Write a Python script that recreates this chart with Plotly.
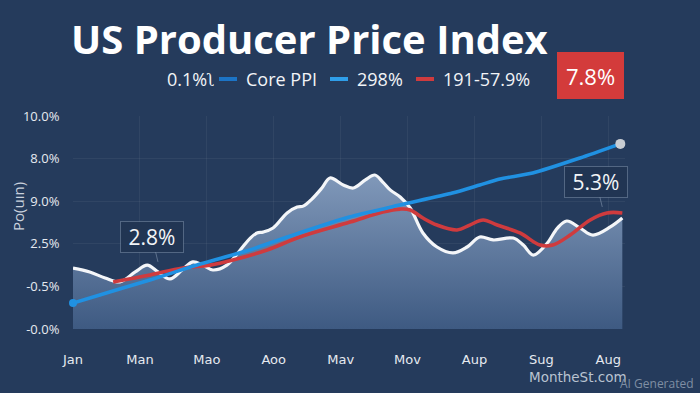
import plotly.graph_objects as go

# ---------------- data ----------------
month_labels = ["Jan", "Man", "Mao", "Aoo", "Mav", "Mov", "Aup", "Sug", "Aug"]
month_pos = [0, 1, 2, 3, 4, 5, 6, 7, 8]

y_tickvals = [0, 2, 4, 6, 8, 10]
y_ticktext = ["-0.0%", "-0.5%", "2.5%", "9.0%", "8.0%", "10.0%"]

ppi_x = [0.00, 0.25, 0.48, 0.70, 0.93, 1.11, 1.27, 1.45, 1.63, 1.79, 1.94, 2.09,
         2.30, 2.50, 2.65, 2.75, 2.84, 2.99, 3.20, 3.35, 3.44, 3.57, 3.72, 3.84,
         4.04, 4.19, 4.37, 4.51, 4.63, 4.74, 4.89, 5.04, 5.23, 5.44, 5.68, 5.89,
         6.08, 6.28, 6.58, 6.73, 6.88, 7.09, 7.24, 7.38, 7.58, 7.77, 8.03, 8.21]
ppi_y = [2.86, 2.68, 2.39, 2.21, 2.68, 3.00, 2.68, 2.35, 2.77, 3.15, 3.00, 2.77,
         3.00, 3.71, 4.27, 4.51, 4.55, 4.74, 5.45, 5.73, 5.77, 6.10, 6.62, 7.09,
         6.76, 6.62, 7.00, 7.23, 6.90, 6.53, 6.20, 5.68, 4.51, 3.85, 3.57, 3.85,
         4.32, 4.18, 4.27, 3.94, 3.47, 4.04, 4.74, 5.07, 4.74, 4.41, 4.79, 5.21]

core_x = [0.00, 0.40, 1.15, 1.90, 2.64, 3.38, 4.13, 4.88, 5.67, 6.08, 6.38, 6.87, 7.58, 8.18]
core_y = [1.22, 1.60, 2.30, 3.05, 3.71, 4.51, 5.26, 5.82, 6.38, 6.76, 7.04, 7.32, 8.03, 8.69]

red_x = [0.60, 1.15, 1.64, 2.05, 2.39, 2.90, 3.39, 4.14, 4.63, 4.89, 5.04, 5.23,
         5.44, 5.74, 5.93, 6.13, 6.34, 6.68, 6.98, 7.17, 7.43, 7.73, 7.98, 8.21]
red_y = [2.21, 2.54, 2.86, 3.00, 3.24, 3.71, 4.32, 5.02, 5.49, 5.63, 5.59, 5.21,
         4.88, 4.65, 4.88, 5.12, 4.88, 4.51, 3.94, 3.94, 4.41, 5.12, 5.45, 5.45]

callout_a = {"x": 1.27, "y": 3.15, "text": "2.8%"}
callout_b = {"x": 7.91, "y": 5.73, "text": "5.3%"}
badge_text = "7.8%"
legend_items = [("0.1%ʅ", None), ("Core PPI", "#1c74c6"), ("298%", "#2f9ee9"), ("191-57.9%", "#cf3b3e")]

# ---------------- layout geometry ----------------
W, H = 700, 393
ML, MR, MT, MB = 73, 75, 116, 64
PW, PH = W - ML - MR, H - MT - MB


def px(p):
    return (p - ML) / PW


def py(p):
    return (H - MB - p) / PH


BG = "#253b5c"
FONT = "Open Sans"

fig = go.Figure()

fig.add_trace(go.Scatter(
    x=ppi_x, y=ppi_y, mode="lines",
    line=dict(color="#f4f6f9", width=3.2, shape="spline", smoothing=1.0),
    fill="tozeroy",
    fillgradient=dict(type="vertical", start=0, stop=7.3,
                      colorscale=[[0, "#3e5a82"], [1, "#8199ba"]]),
    hoverinfo="skip", showlegend=False,
))

fig.add_trace(go.Scatter(
    x=red_x, y=red_y, mode="lines",
    line=dict(color="#cf3b3e", width=3.6, shape="spline", smoothing=1.0),
    hoverinfo="skip", showlegend=False,
))

fig.add_trace(go.Scatter(
    x=core_x, y=core_y, mode="lines",
    line=dict(color="#2091e2", width=3.6, shape="spline", smoothing=0.6),
    hoverinfo="skip", showlegend=False,
))

fig.add_trace(go.Scatter(
    x=[core_x[0]], y=[core_y[0]], mode="markers",
    marker=dict(color="#2091e2", size=8),
    hoverinfo="skip", showlegend=False, cliponaxis=False,
))
fig.add_trace(go.Scatter(
    x=[core_x[-1]], y=[core_y[-1]], mode="markers",
    marker=dict(color="#c9cdd3", size=10),
    hoverinfo="skip", showlegend=False, cliponaxis=False,
))

annotations = []
shapes = []

# title
annotations.append(dict(
    text="<b>US Producer Price Index</b>", x=px(69), y=py(39), xref="paper", yref="paper",
    xanchor="left", yanchor="middle", showarrow=False,
    font=dict(family=FONT, size=40, color="#ffffff"),
))

# legend (custom)
leg_layout = [(165, None), (244, (219, 237)), (355, (330, 348)), (441, (416, 434))]
for (label, color), (tx, dash) in zip(legend_items, leg_layout):
    annotations.append(dict(
        text=label, x=px(tx), y=py(79), xref="paper", yref="paper",
        xanchor="left", yanchor="middle", showarrow=False,
        font=dict(family=FONT, size=18, color="#f2f4f7"),
    ))
    if dash is not None:
        shapes.append(dict(type="line", xref="paper", yref="paper",
                           x0=px(dash[0]), x1=px(dash[1]), y0=py(79), y1=py(79),
                           line=dict(color=color, width=4)))

# red badge
shapes.append(dict(type="rect", xref="paper", yref="paper",
                   x0=px(557), x1=px(624), y0=py(99), y1=py(52),
                   fillcolor="#d33b3b", line=dict(width=0)))
annotations.append(dict(
    text=badge_text, x=px(590.5), y=py(76), xref="paper", yref="paper",
    xanchor="center", yanchor="middle", showarrow=False,
    font=dict(family=FONT, size=22, color="#ffffff"),
))

# callouts
for c in (callout_a, callout_b):
    annotations.append(dict(
        text=c["text"], x=c["x"], y=c["y"], xref="x", yref="y",
        showarrow=True, arrowhead=0, arrowwidth=1, arrowcolor="rgba(200,215,235,0.35)",
        ax=-6, ay=-25, standoff=0,
        bgcolor="rgba(33,53,82,0.92)", bordercolor="rgba(200,215,235,0.3)", borderwidth=1,
        borderpad=3, width=56, height=24,
        font=dict(family=FONT, size=21, color="#f2f4f7"),
    ))

# y-axis title
annotations.append(dict(
    text="Po(uın)", x=px(18), y=py(207), xref="paper", yref="paper",
    xanchor="center", yanchor="middle", showarrow=False, textangle=-90,
    font=dict(family=FONT, size=15, color="#c9d1dd"),
))

# watermarks
annotations.append(dict(
    text="MontheSt.com", x=px(578), y=py(377), xref="paper", yref="paper",
    xanchor="center", yanchor="middle", showarrow=False,
    font=dict(family="DejaVu Sans", size=13.5, color="#b9c3d1"),
))
annotations.append(dict(
    text="AI Generated", x=px(657), y=py(383), xref="paper", yref="paper",
    xanchor="center", yanchor="middle", showarrow=False,
    font=dict(family="Open Sans", size=12, color="#7f8ea3"),
))

fig.update_layout(
    width=W, height=H,
    margin=dict(l=ML, r=MR, t=MT, b=MB),
    paper_bgcolor=BG, plot_bgcolor=BG,
    showlegend=False,
    annotations=annotations, shapes=shapes,
    xaxis=dict(
        range=[0, 8.25], tickvals=month_pos, ticktext=month_labels,
        showgrid=True, gridcolor="rgba(255,255,255,0.05)", zeroline=False,
        showline=False, ticks="outside", ticklen=18, tickcolor="rgba(0,0,0,0)",
        tickfont=dict(family="DejaVu Sans", size=13, color="#e6eaf0"),
    ),
    yaxis=dict(
        range=[0, 10], tickvals=y_tickvals, ticktext=y_ticktext,
        showgrid=True, gridcolor="rgba(255,255,255,0.05)", zeroline=False,
        showline=False, ticks="outside", ticklen=10, tickcolor="rgba(0,0,0,0)",
        tickfont=dict(family=FONT, size=13, color="#e6eaf0"),
    ),
)

fig.write_html(
    "out.html",
    config={"displayModeBar": False},
    post_script="document.body.style.margin='0';document.body.style.background='%s';" % BG,
)
